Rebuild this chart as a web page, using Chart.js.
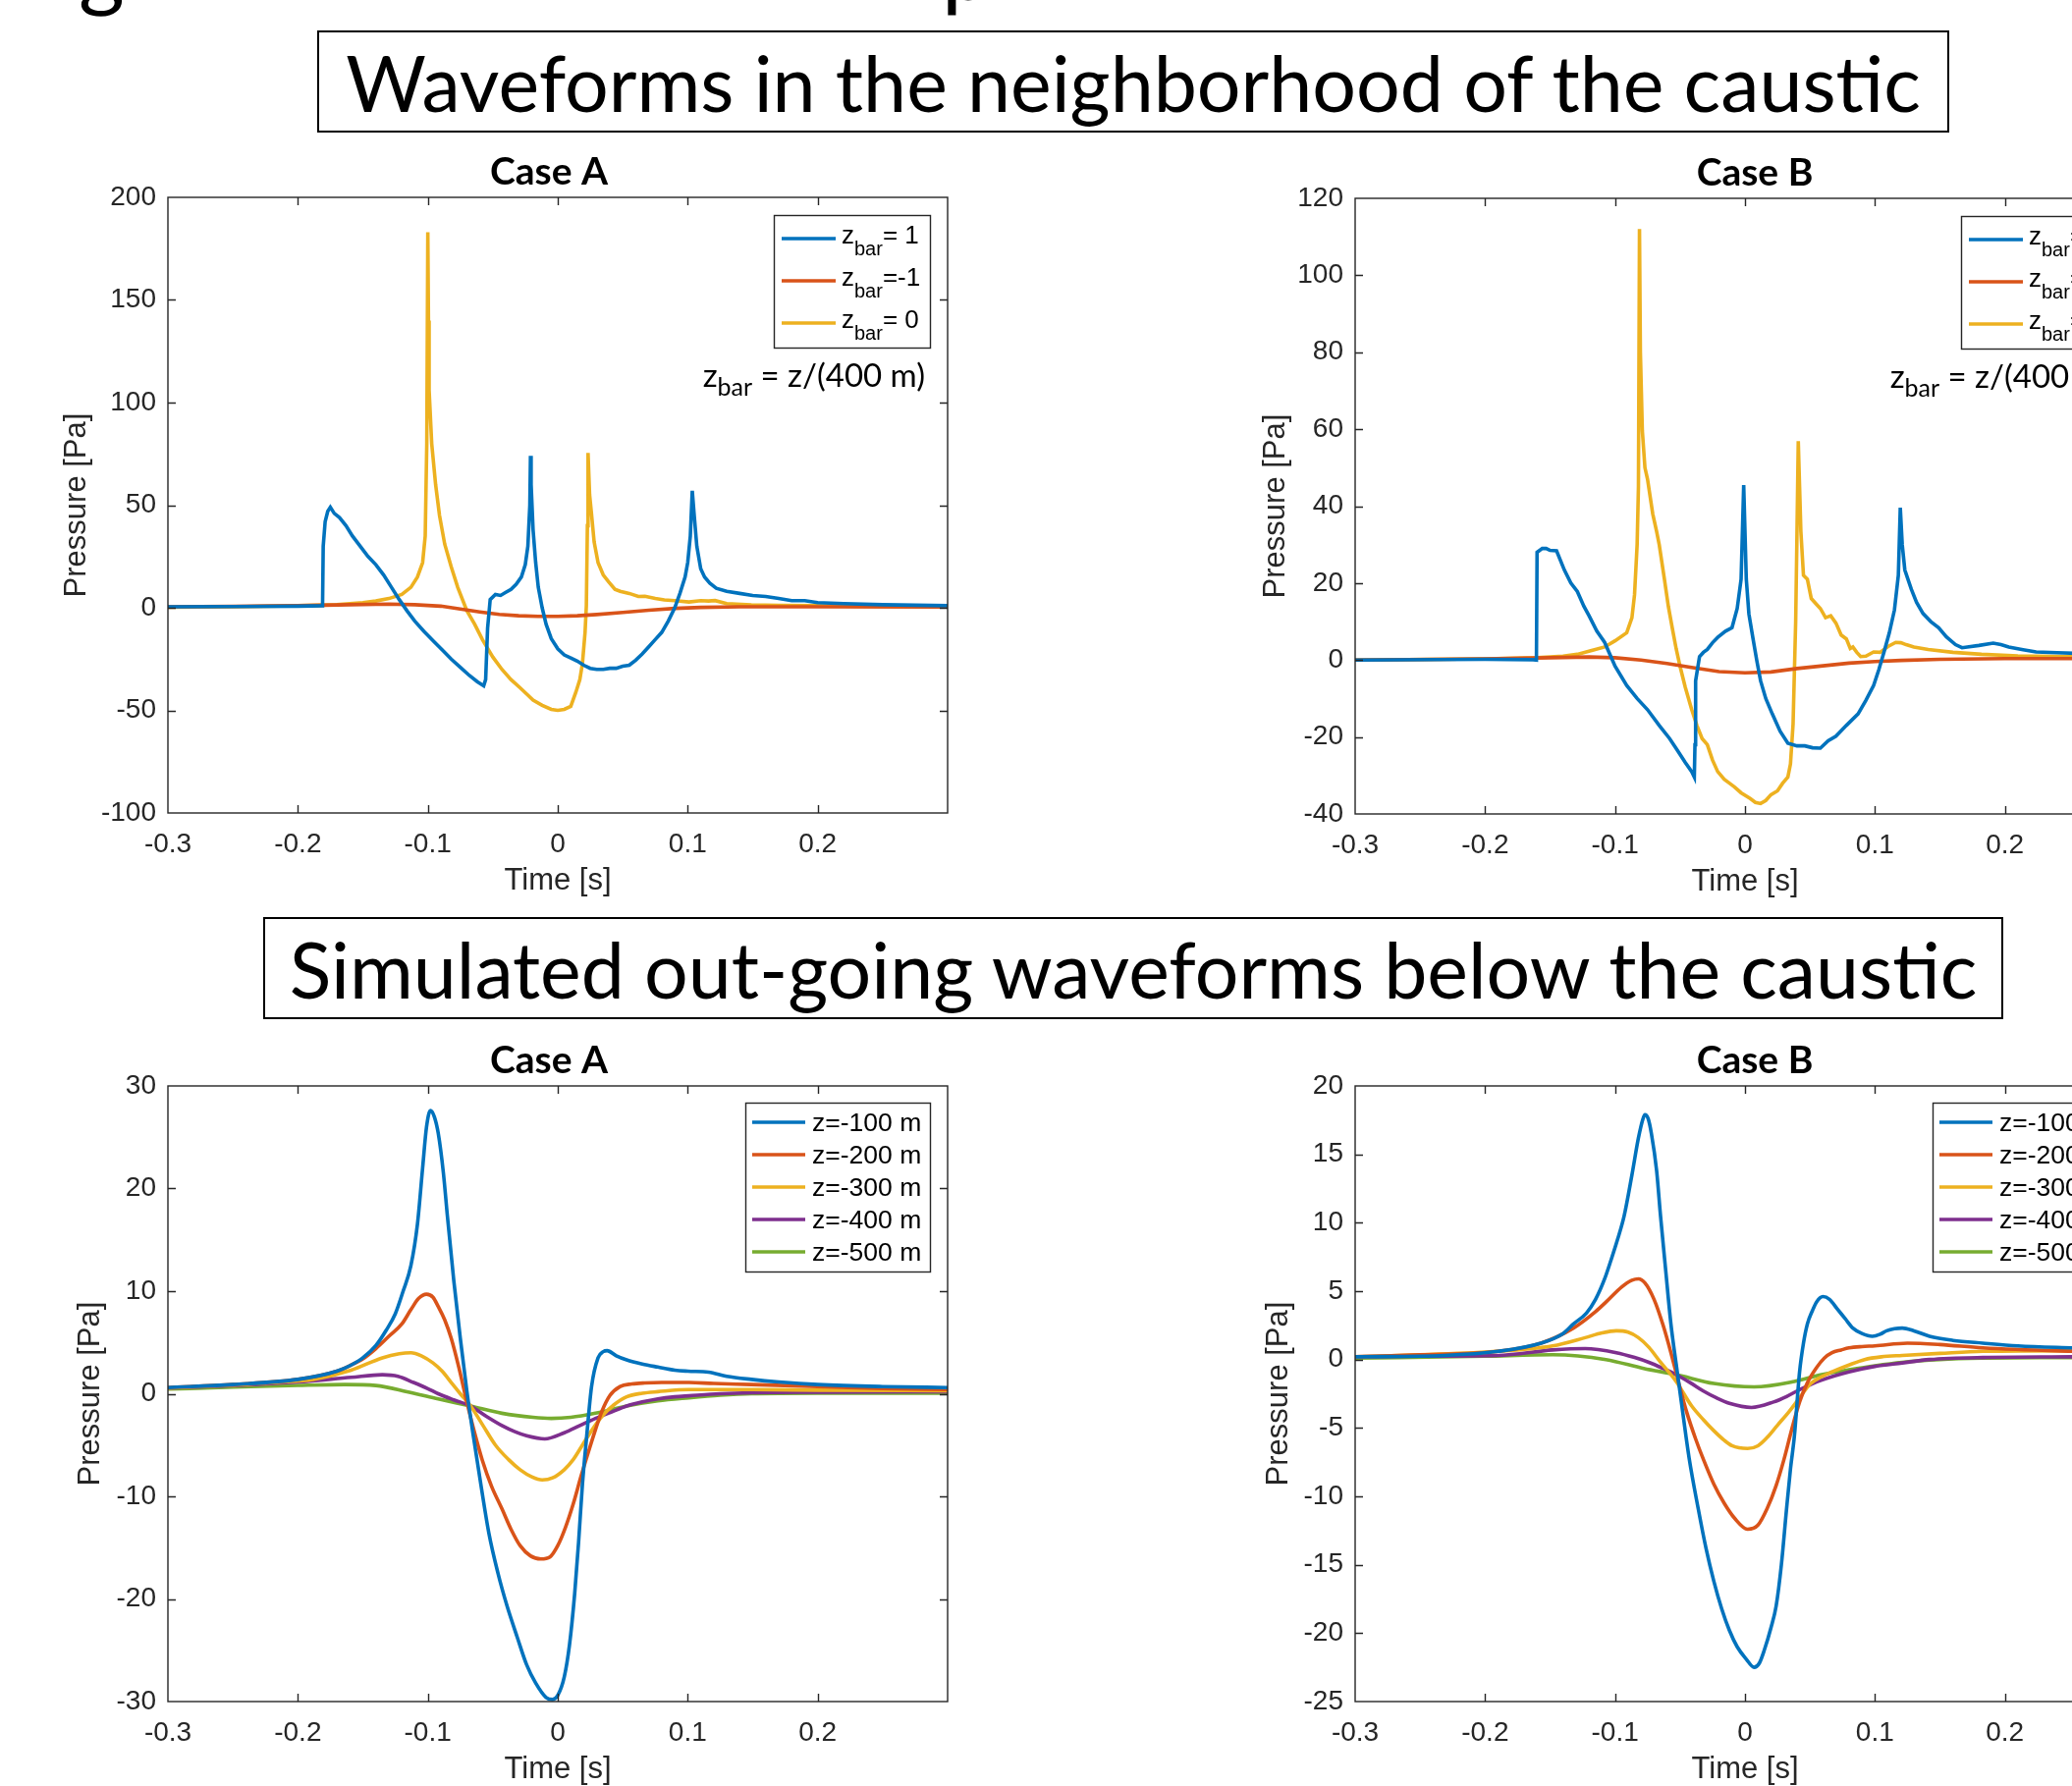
<!DOCTYPE html>
<html>
<head>
<meta charset="utf-8">
<script src="https://cdn.jsdelivr.net/npm/chart.js@4.4.1/dist/chart.umd.min.js"></script>
<style>
html, body { margin: 0; padding: 0; width: 2110px; height: 1819px; overflow: hidden; background: #fff; }
.frag { position: absolute; top: -80px; font-family: Lato; font-size: 90px; line-height: 90px; color: #000; }
.banner { position: absolute; box-sizing: border-box; border: 2px solid #000; display: flex; align-items: center; justify-content: center; font-family: Lato; color: #000; white-space: nowrap; background: #fff; }
canvas { position: absolute; }
</style>
</head>
<body>
<span class="frag" style="left:80px">g</span>
<span class="frag" style="left:959px">p</span>
<div class="banner" id="banner1" style="left:323px; top:31px; width:1662px; height:104px;"><span>Waveforms in the neighborhood of the caustic</span></div>
<div class="banner" id="banner2" style="left:268px; top:934px; width:1772px; height:104px;"><span>Simulated out-going waveforms below the caustic</span></div>
<canvas id="topA" width="1010" height="800" style="left:0px; top:130px"></canvas>
<canvas id="topB" width="1010" height="800" style="left:1209px; top:131px"></canvas>
<canvas id="botA" width="1010" height="800" style="left:0px; top:1035px"></canvas>
<canvas id="botB" width="1010" height="800" style="left:1209px; top:1035px"></canvas>
<script>
// ---- data (time in s, pressure in Pa) ----

// neighborhood of the caustic, case A
const tTopA_z1 = [-0.3, -0.25, -0.2, -0.181, -0.1805, -0.179, -0.177, -0.175, -0.172, -0.168, -0.163, -0.158, -0.152, -0.146, -0.14, -0.134, -0.128, -0.122, -0.116, -0.11, -0.103, -0.096, -0.089, -0.082, -0.075, -0.068, -0.062, -0.057, -0.0555, -0.054, -0.052, -0.048, -0.044, -0.04, -0.036, -0.032, -0.028, -0.025, -0.023, -0.0215, -0.021, -0.0205, -0.019, -0.017, -0.015, -0.012, -0.009, -0.005, 0, 0.005, 0.01, 0.015, 0.02, 0.025, 0.03, 0.035, 0.04, 0.045, 0.05, 0.055, 0.06, 0.065, 0.07, 0.075, 0.08, 0.085, 0.09, 0.094, 0.098, 0.1, 0.102, 0.1035, 0.105, 0.107, 0.11, 0.113, 0.117, 0.122, 0.13, 0.14, 0.15, 0.16, 0.17, 0.18, 0.19, 0.2, 0.22, 0.25, 0.3];
const pTopA_z1 = [0.5, 0.6, 0.8, 1, 30, 42, 47, 49, 46, 44, 40, 35, 30, 25, 21, 16, 10, 4, -1.5, -6.5, -11.5, -16, -20.5, -25, -29, -33, -36, -38, -35, -10, 4, 6.5, 6, 7.5, 9, 11.5, 15, 21, 30, 50, 74, 60, 38, 22, 10, 0, -8, -15, -20, -23, -24.5, -26, -28, -29.5, -30, -30, -29.5, -29.5, -28.5, -28, -25.5, -22.5, -19, -15.5, -12, -6.5, 0, 7, 15, 22, 35, 57, 45, 30, 19, 15, 12, 9.5, 8, 7, 6, 5.5, 4.5, 3.5, 3.5, 2.5, 2, 1.5, 1];
const tTopA_zm1 = [-0.3, -0.25, -0.2, -0.16, -0.13, -0.11, -0.09, -0.075, -0.06, -0.045, -0.03, -0.015, 0, 0.015, 0.03, 0.05, 0.07, 0.09, 0.11, 0.14, 0.2, 0.3];
const pTopA_zm1 = [0.5, 0.7, 1.0, 1.5, 1.8, 1.5, 0.8, -0.6, -2.0, -3.2, -3.9, -4.2, -4.2, -3.9, -3.3, -2.3, -1.2, -0.3, 0.2, 0.5, 0.5, 0.4];
const tTopA_z0 = [-0.3, -0.25, -0.2, -0.17, -0.15, -0.14, -0.13, -0.12, -0.113, -0.108, -0.104, -0.102, -0.1008, -0.1, -0.0995, -0.099, -0.097, -0.094, -0.091, -0.087, -0.082, -0.077, -0.07, -0.064, -0.058, -0.05, -0.043, -0.036, -0.029, -0.024, -0.019, -0.012, -0.005, 0, 0.005, 0.01, 0.014, 0.017, 0.019, 0.021, 0.022, 0.0228, 0.0233, 0.0245, 0.026, 0.028, 0.031, 0.035, 0.039, 0.044, 0.048, 0.055, 0.062, 0.067, 0.075, 0.082, 0.09, 0.101, 0.11, 0.116, 0.121, 0.13, 0.149, 0.17, 0.198, 0.24, 0.3];
const pTopA_z0 = [0.3, 0.5, 1.0, 1.5, 2.5, 3.3, 4.5, 6.5, 10, 15, 22, 35, 80, 183, 140, 106, 80, 60, 45, 31, 20, 10, -1.4, -8, -15.5, -24, -30, -35, -39, -42, -45, -47.5, -49.5, -50, -49.5, -48, -41, -35, -27, -12, 1, 40, 75.5, 55, 45.5, 32, 22, 16, 12.7, 9, 8, 7, 5.5, 5.6, 4.5, 3.8, 3.5, 2.8, 3.5, 3.3, 3.5, 2, 1.4, 1.2, 1, 0.7, 0.5];

// neighborhood of the caustic, case B
const tTopB_z1 = [-0.3, -0.2, -0.163, -0.1605, -0.16, -0.156, -0.153, -0.15, -0.145, -0.139, -0.134, -0.129, -0.124, -0.12, -0.114, -0.108, -0.1, -0.091, -0.083, -0.075, -0.066, -0.058, -0.052, -0.046, -0.041, -0.039, -0.0385, -0.038, -0.035, -0.032, -0.029, -0.025, -0.021, -0.015, -0.01, -0.006, -0.003, -0.001, 0.001, 0.003, 0.006, 0.009, 0.012, 0.016, 0.021, 0.027, 0.033, 0.04, 0.046, 0.052, 0.058, 0.064, 0.07, 0.078, 0.087, 0.093, 0.099, 0.103, 0.107, 0.111, 0.115, 0.118, 0.1195, 0.121, 0.123, 0.128, 0.132, 0.137, 0.143, 0.149, 0.155, 0.162, 0.167, 0.171, 0.18, 0.191, 0.197, 0.203, 0.214, 0.224, 0.24, 0.26, 0.3];
const pTopB_z1 = [0, 0.2, 0.1, 0, 28, 29, 29, 28.5, 28.4, 23.4, 20, 17.8, 14, 11.5, 7.5, 4.6, -1.6, -6.6, -10, -12.9, -17, -20.4, -23.5, -26.6, -29, -30.4, -22, -5.4, 0.9, 2, 2.75, 4.5, 5.9, 7.5, 8.4, 13.4, 21, 45.5, 21, 12, 5.9, 0, -5.4, -10, -14, -18.5, -21.6, -22.3, -22.3, -22.8, -22.9, -21, -19.8, -17, -14, -10.5, -6.6, -2.5, 2.1, 7, 13, 22, 39.6, 30, 23.4, 18.4, 15, 12.1, 10, 8.4, 6, 4, 3.2, 3.4, 3.8, 4.4, 4, 3.4, 2.7, 2.1, 1.9, 1.7, 1.2];
const tTopB_zm1 = [-0.3, -0.2, -0.15, -0.12, -0.1, -0.08, -0.06, -0.04, -0.02, 0, 0.02, 0.04, 0.06, 0.08, 0.1, 0.12, 0.15, 0.2, 0.3];
const pTopB_zm1 = [0, 0.3, 0.6, 0.8, 0.6, 0, -0.9, -2.0, -3.0, -3.3, -3.1, -2.2, -1.5, -0.8, -0.4, -0.1, 0.2, 0.4, 0.4];
const tTopB_z0 = [-0.3, -0.2, -0.16, -0.14, -0.129, -0.118, -0.108, -0.1, -0.091, -0.087, -0.085, -0.083, -0.082, -0.0812, -0.0805, -0.079, -0.077, -0.075, -0.071, -0.068, -0.066, -0.062, -0.059, -0.056, -0.053, -0.05, -0.046, -0.041, -0.037, -0.033, -0.029, -0.025, -0.021, -0.016, -0.012, -0.008, -0.003, 0.004, 0.008, 0.012, 0.016, 0.02, 0.025, 0.029, 0.033, 0.035, 0.037, 0.039, 0.04, 0.041, 0.042, 0.043, 0.045, 0.048, 0.051, 0.055, 0.058, 0.062, 0.066, 0.07, 0.074, 0.078, 0.081, 0.083, 0.086, 0.089, 0.093, 0.099, 0.104, 0.11, 0.116, 0.12, 0.124, 0.13, 0.141, 0.16, 0.182, 0.21, 0.252, 0.3];
const pTopB_z0 = [0, 0.3, 0.6, 1, 1.5, 2.5, 3.4, 5, 7.1, 11, 17, 30, 45, 112, 80, 59.6, 50, 47, 38, 33.4, 30, 21, 14, 8.4, 3, -1.6, -7, -12.9, -17, -20.4, -22, -26, -29, -31, -32, -33, -34.5, -36, -37, -37.3, -36.5, -35, -34, -32, -30.4, -27, -16.6, 10, 33, 56.9, 45, 33.4, 22, 21, 16, 14.5, 13.4, 11, 11.5, 9.6, 6.5, 5.5, 3, 3.4, 2, 0.9, 1, 2.1, 2, 3.5, 4.6, 4.5, 4, 3.4, 2.75, 2, 1.5, 1.1, 0.9, 0.7];

// below the caustic, case A
const tBotA_100 = [-0.3, -0.25, -0.2, -0.17, -0.159, -0.15, -0.14, -0.132, -0.125, -0.119, -0.113, -0.108, -0.104, -0.101, -0.098, -0.095, -0.092, -0.088, -0.085, -0.08, -0.075, -0.07, -0.065, -0.059, -0.053, -0.046, -0.039, -0.031, -0.024, -0.017, -0.009, -0.004, 0, 0.005, 0.009, 0.013, 0.016, 0.019, 0.022, 0.026, 0.031, 0.035, 0.038, 0.045, 0.053, 0.065, 0.077, 0.09, 0.1, 0.116, 0.13, 0.149, 0.17, 0.2, 0.25, 0.3];
const pBotA_100 = [0.6, 0.9, 1.4, 2.2, 2.8, 3.5, 4.7, 6.2, 7.8, 10, 12.5, 16.5, 22, 26, 27.6, 27, 25.4, 21.5, 17.4, 11, 5.4, 0.3, -4.1, -9, -13.6, -17.5, -20.7, -23.8, -26.4, -28.2, -29.6, -29.8, -29.4, -27.6, -24.5, -19.5, -14.5, -8.8, -4.5, 0.7, 3.5, 4.1, 4.2, 3.7, 3.3, 2.9, 2.6, 2.3, 2.2, 2.1, 1.7, 1.4, 1.15, 0.9, 0.7, 0.6];
const tBotA_200 = [-0.3, -0.25, -0.2, -0.17, -0.159, -0.15, -0.14, -0.13, -0.12, -0.113, -0.107, -0.101, -0.096, -0.092, -0.087, -0.082, -0.076, -0.07, -0.064, -0.058, -0.051, -0.043, -0.036, -0.029, -0.021, -0.013, -0.006, 0, 0.006, 0.012, 0.018, 0.024, 0.029, 0.034, 0.04, 0.048, 0.057, 0.067, 0.08, 0.101, 0.12, 0.149, 0.2, 0.25, 0.3];
const pBotA_200 = [0.6, 0.9, 1.4, 2.2, 2.8, 3.4, 4.4, 5.6, 6.8, 8.2, 9.3, 9.7, 9.4, 8.5, 7.2, 5.4, 2.5, -0.8, -3.8, -6.5, -9, -11.2, -13.2, -14.8, -15.8, -16.1, -15.9, -14.8, -13, -10.7, -8, -5.5, -3.5, -1.7, -0.2, 0.7, 0.95, 1.05, 1.1, 1.1, 1.0, 0.9, 0.7, 0.5, 0.4];
const tBotA_300 = [-0.3, -0.25, -0.2, -0.188, -0.159, -0.135, -0.122, -0.113, -0.105, -0.096, -0.089, -0.082, -0.075, -0.067, -0.058, -0.048, -0.038, -0.029, -0.02, -0.012, -0.004, 0.005, 0.012, 0.019, 0.026, 0.034, 0.043, 0.053, 0.065, 0.077, 0.101, 0.15, 0.2, 0.3];
const pBotA_300 = [0.55, 0.85, 1.25, 1.4, 2.3, 3.5, 3.9, 4.0, 3.7, 3.0, 2.2, 1.1, 0.0, -1.2, -3.0, -5.0, -6.4, -7.4, -8.1, -8.4, -8.2, -7.4, -6.4, -5.0, -3.6, -2.2, -1.1, -0.3, 0.05, 0.2, 0.4, 0.4, 0.35, 0.3];
const tBotA_400 = [-0.3, -0.25, -0.2, -0.159, -0.135, -0.123, -0.111, -0.1, -0.092, -0.08, -0.067, -0.055, -0.043, -0.033, -0.024, -0.01, 0.005, 0.017, 0.029, 0.041, 0.053, 0.065, 0.077, 0.09, 0.101, 0.125, 0.149, 0.2, 0.3];
const pBotA_400 = [0.55, 0.8, 1.15, 1.6, 1.85, 1.7, 1.1, 0.5, 0.0, -0.6, -1.2, -2.2, -3.1, -3.7, -4.1, -4.4, -3.8, -3.1, -2.4, -1.8, -1.2, -0.8, -0.5, -0.3, -0.2, 0.0, 0.1, 0.15, 0.2];
const tBotA_500 = [-0.3, -0.25, -0.2, -0.164, -0.14, -0.116, -0.092, -0.067, -0.043, -0.019, -0.005, 0.01, 0.029, 0.053, 0.077, 0.101, 0.125, 0.149, 0.2, 0.3];
const pBotA_500 = [0.45, 0.65, 0.82, 0.9, 0.8, 0.2, -0.5, -1.2, -1.9, -2.3, -2.4, -2.3, -1.9, -1.2, -0.7, -0.4, -0.15, 0.0, 0.05, 0.05];

// below the caustic, case B
const tBotB_100 = [-0.3, -0.231, -0.19, -0.157, -0.14, -0.132, -0.122, -0.115, -0.108, -0.103, -0.098, -0.093, -0.087, -0.082, -0.0785, -0.077, -0.0745, -0.072, -0.068, -0.065, -0.061, -0.057, -0.053, -0.049, -0.043, -0.036, -0.03, -0.024, -0.018, -0.012, -0.006, 0.001, 0.007, 0.011, 0.015, 0.02, 0.024, 0.028, 0.032, 0.035, 0.038, 0.042, 0.045, 0.048, 0.052, 0.055, 0.06, 0.065, 0.071, 0.077, 0.083, 0.09, 0.098, 0.104, 0.109, 0.115, 0.121, 0.13, 0.142, 0.16, 0.183, 0.21, 0.253, 0.3];
const pBotB_100 = [0.2, 0.3, 0.6, 1.2, 1.9, 2.6, 3.4, 4.4, 5.9, 7.3, 8.8, 10.5, 13.5, 16.2, 17.6, 17.9, 17.6, 16.5, 13.8, 10.5, 6.5, 2.6, -0.3, -3.1, -7.2, -10.9, -13.8, -16.2, -18.2, -19.8, -21, -21.9, -22.5, -22.2, -21.2, -19.6, -18, -15, -10.9, -8, -5.6, -0.9, 1.2, 2.6, 3.6, 4.2, 4.6, 4.4, 3.7, 3.0, 2.3, 1.9, 1.7, 1.85, 2.1, 2.25, 2.3, 2.1, 1.7, 1.4, 1.2, 1.0, 0.85, 0.7];
const tBotB_200 = [-0.3, -0.25, -0.19, -0.157, -0.132, -0.115, -0.107, -0.095, -0.087, -0.082, -0.077, -0.07, -0.063, -0.057, -0.051, -0.045, -0.038, -0.032, -0.024, -0.016, -0.008, 0.002, 0.01, 0.017, 0.024, 0.03, 0.036, 0.042, 0.048, 0.055, 0.061, 0.067, 0.074, 0.08, 0.09, 0.1, 0.125, 0.15, 0.183, 0.253, 0.3];
const pBotB_200 = [0.2, 0.35, 0.6, 1.2, 2.3, 3.5, 4.2, 5.3, 5.8, 5.9, 5.6, 4.4, 2.5, 0.5, -1.7, -3.8, -5.8, -7.3, -9.1, -10.5, -11.6, -12.4, -12.1, -10.9, -9.2, -7.3, -5.1, -3.1, -1.7, -0.6, 0.1, 0.5, 0.7, 0.85, 0.95, 1.0, 1.2, 1.1, 0.85, 0.6, 0.5];
const tBotB_300 = [-0.3, -0.25, -0.19, -0.148, -0.123, -0.11, -0.099, -0.09, -0.082, -0.074, -0.065, -0.053, -0.041, -0.032, -0.024, -0.016, -0.01, 0.002, 0.01, 0.017, 0.025, 0.034, 0.042, 0.05, 0.058, 0.067, 0.08, 0.092, 0.105, 0.121, 0.15, 0.183, 0.253, 0.3];
const pBotB_300 = [0.2, 0.35, 0.6, 1.0, 1.6, 1.95, 2.1, 2.0, 1.6, 0.9, -0.2, -1.6, -3.4, -4.4, -5.2, -5.9, -6.3, -6.5, -6.3, -5.7, -4.8, -3.8, -2.8, -1.8, -1.3, -0.9, -0.4, 0.0, 0.2, 0.3, 0.45, 0.6, 0.65, 0.65];
const tBotB_400 = [-0.3, -0.25, -0.19, -0.148, -0.123, -0.099, -0.085, -0.074, -0.063, -0.053, -0.042, -0.032, -0.022, -0.012, 0.005, 0.022, 0.032, 0.042, 0.059, 0.08, 0.1, 0.121, 0.142, 0.183, 0.253, 0.3];
const pBotB_400 = [0.2, 0.25, 0.3, 0.7, 0.8, 0.5, 0.15, -0.2, -0.65, -1.1, -1.7, -2.3, -2.8, -3.2, -3.5, -3.1, -2.7, -2.2, -1.5, -0.9, -0.5, -0.25, 0.0, 0.15, 0.2, 0.25];
const tBotB_500 = [-0.3, -0.2, -0.148, -0.107, -0.078, -0.053, -0.024, 0.007, 0.038, 0.059, 0.08, 0.1, 0.121, 0.15, 0.183, 0.253, 0.3];
const pBotB_500 = [0.1, 0.25, 0.35, 0.0, -0.65, -1.1, -1.75, -2.0, -1.6, -1.1, -0.75, -0.45, -0.2, 0.0, 0.1, 0.15, 0.2];

// legend texts
const zbarLabels = ['= 1', '=-1', '= 0'];
const depthLabels = ['z=-100 m', 'z=-200 m', 'z=-300 m', 'z=-400 m', 'z=-500 m'];

// matlab default line colours
const blue = '#0072BD', orange = '#D95319', yellow = '#EDB120', purple = '#7E2F8E', green = '#77AC30';

// ---- helpers ----
const toXY = (t, p) => t.map((v, i) => ({ x: v, y: p[i] }));
const tickFont = { family: "'Liberation Sans', Arial, sans-serif", size: 28 };
const labelFont = { family: "'Liberation Sans', Arial, sans-serif", size: 31 };
const axisColor = '#262626';
const lineW = 3.6;

function fitBanner(id, target) {
  const span = document.querySelector('#' + id + ' span');
  span.style.fontSize = '100px';
  const w = span.getBoundingClientRect().width;
  span.style.fontSize = (100 * target / w) + 'px';
}
fitBanner('banner1', 1604);
fitBanner('banner2', 1719);

// draws the matlab style box, inner ticks, title, legend and note
const matlabFrame = {
  id: 'matlabFrame',
  afterDatasetsDraw(chart, args, opts) {
    const { ctx, chartArea: a, scales: { x, y } } = chart;
    ctx.save();
    ctx.strokeStyle = axisColor;
    ctx.lineWidth = 1.4;
    ctx.beginPath();
    x.ticks.forEach(t => {
      if (t.value <= x.min + 1e-9 || t.value >= x.max - 1e-9) return;
      const px = Math.round(x.getPixelForValue(t.value)) + 0.5;
      ctx.moveTo(px, a.bottom); ctx.lineTo(px, a.bottom - 8);
      ctx.moveTo(px, a.top); ctx.lineTo(px, a.top + 8);
    });
    y.ticks.forEach(t => {
      if (t.value <= y.min + 1e-9 || t.value >= y.max - 1e-9) return;
      const py = Math.round(y.getPixelForValue(t.value)) + 0.5;
      ctx.moveTo(a.left, py); ctx.lineTo(a.left + 8, py);
      ctx.moveTo(a.right, py); ctx.lineTo(a.right - 8, py);
    });
    ctx.stroke();
    ctx.strokeRect(a.left, a.top, a.width, a.height);

    // title
    ctx.fillStyle = '#000';
    ctx.font = 'bold 39px Lato';
    ctx.textAlign = 'center';
    ctx.textBaseline = 'alphabetic';
    ctx.fillText(opts.title, x.getPixelForValue(0) + opts.titleDx, a.top - 13);

    // legend
    const L = opts.legend;
    const bx = a.right - L.right, by = a.top + L.top;
    ctx.fillStyle = '#fff';
    ctx.fillRect(bx, by, L.w, L.h);
    ctx.strokeStyle = axisColor;
    ctx.lineWidth = 1.4;
    ctx.strokeRect(bx + 0.5, by + 0.5, L.w, L.h);
    ctx.textAlign = 'left';
    chart.data.datasets.forEach((ds, i) => {
      const ry = by + L.first + i * L.step;
      ctx.strokeStyle = ds.borderColor;
      ctx.lineWidth = lineW;
      ctx.beginPath();
      ctx.moveTo(bx + L.x0, ry); ctx.lineTo(bx + L.x1, ry);
      ctx.stroke();
      ctx.fillStyle = '#000';
      let tx = bx + L.textX;
      ds.legendParts.forEach(part => {
        ctx.font = (part.sub ? L.subSize : L.size) + "px 'Liberation Sans', Arial, sans-serif";
        ctx.fillText(part.text, tx, ry + (part.sub ? L.subDy : L.dy));
        tx += ctx.measureText(part.text).width;
      });
    });

    // note z_bar = z/(400 m)
    if (opts.note) {
      const parts = [{ text: 'z' }, { text: 'bar', sub: true }, { text: ' = z/(400 m)' }];
      const fontOf = p => (p.sub ? '25px' : '33px') + ' Lato';
      let total = 0;
      parts.forEach(p => { ctx.font = fontOf(p); total += ctx.measureText(p.text).width; });
      let tx = a.right - 23 - total;
      ctx.fillStyle = '#000';
      parts.forEach(p => {
        ctx.font = fontOf(p);
        ctx.fillText(p.text, tx, a.top + 193 + (p.sub ? 9 : 0));
        tx += ctx.measureText(p.text).width;
      });
    }
    ctx.restore();
  }
};

const topLegend = { right: 177, top: 18, w: 159, h: 135, first: 24, step: 43, x0: 8, x1: 63, textX: 69, dy: 4.5, subDy: 17, size: 26, subSize: 20 };
const botLegend = { right: 206, top: 17, w: 188, h: 172, first: 20, step: 33, x0: 7, x1: 61, textX: 68, dy: 9, subDy: 9, size: 26.5, subSize: 20 };

function makeChart(id, series, yMin, yMax, yStep, frame) {
  return new Chart(document.getElementById(id), {
    type: 'line',
    data: {
      datasets: series.map(s => ({
        label: s.label,
        data: toXY(s.t, s.p),
        borderColor: s.color,
        borderWidth: lineW,
        pointRadius: 0,
        fill: false,
        tension: frame.smooth ? 0.4 : 0,
        cubicInterpolationMode: frame.smooth ? 'monotone' : 'default',
        legendParts: s.parts
      }))
    },
    options: {
      responsive: false,
      animation: false,
      events: [],
      layout: { padding: { left: 0, right: 45, top: 71, bottom: 0 } },
      plugins: {
        legend: { display: false },
        tooltip: { enabled: false },
        matlabFrame: frame
      },
      scales: {
        x: {
          type: 'linear',
          min: -0.3,
          max: 0.3,
          afterFit: s => { s.height = 102; },
          grid: { display: false, drawTicks: false },
          border: { display: false },
          ticks: {
            stepSize: 0.1,
            font: tickFont,
            color: axisColor,
            padding: 15,
            maxRotation: 0,
            autoSkip: false,
            callback: v => {
              const r = Math.round(v * 10) / 10;
              if (r >= 0.3) return '';
              return r === 0 ? '0' : String(r);
            }
          },
          title: { display: true, text: 'Time [s]', font: labelFont, color: axisColor, padding: { top: 0, bottom: 14 } }
        },
        y: {
          min: yMin,
          max: yMax,
          afterFit: s => { s.width = 171; },
          grid: { display: false, drawTicks: false },
          border: { display: false },
          ticks: { stepSize: yStep, font: tickFont, color: axisColor, padding: 12 },
          title: { display: true, text: 'Pressure [Pa]', font: labelFont, color: axisColor, padding: { top: frame.yTitlePad, bottom: 0 } }
        }
      }
    },
    plugins: [matlabFrame]
  });
}

const zbarParts = zbarLabels.map(l => [{ text: 'z' }, { text: 'bar', sub: true }, { text: l }]);
const depthParts = depthLabels.map(l => [{ text: l }]);

makeChart('topA', [
  { label: 'zbar' + zbarLabels[0], t: tTopA_z1, p: pTopA_z1, color: blue, parts: zbarParts[0] },
  { label: 'zbar' + zbarLabels[1], t: tTopA_zm1, p: pTopA_zm1, color: orange, parts: zbarParts[1] },
  { label: 'zbar' + zbarLabels[2], t: tTopA_z0, p: pTopA_z0, color: yellow, parts: zbarParts[2] }
], -100, 200, 50, { title: 'Case A', titleDx: -9, legend: topLegend, note: true, smooth: false, yTitlePad: 60 });

makeChart('topB', [
  { label: 'zbar' + zbarLabels[0], t: tTopB_z1, p: pTopB_z1, color: blue, parts: zbarParts[0] },
  { label: 'zbar' + zbarLabels[1], t: tTopB_zm1, p: pTopB_zm1, color: orange, parts: zbarParts[1] },
  { label: 'zbar' + zbarLabels[2], t: tTopB_z0, p: pTopB_z0, color: yellow, parts: zbarParts[2] }
], -40, 120, 20, { title: 'Case B', titleDx: 10, legend: topLegend, note: true, smooth: false, yTitlePad: 72 });

makeChart('botA', [
  { label: depthLabels[0], t: tBotA_100, p: pBotA_100, color: blue, parts: depthParts[0] },
  { label: depthLabels[1], t: tBotA_200, p: pBotA_200, color: orange, parts: depthParts[1] },
  { label: depthLabels[2], t: tBotA_300, p: pBotA_300, color: yellow, parts: depthParts[2] },
  { label: depthLabels[3], t: tBotA_400, p: pBotA_400, color: purple, parts: depthParts[3] },
  { label: depthLabels[4], t: tBotA_500, p: pBotA_500, color: green, parts: depthParts[4] }
], -30, 30, 10, { title: 'Case A', titleDx: -9, legend: botLegend, note: false, smooth: true, yTitlePad: 74 });

makeChart('botB', [
  { label: depthLabels[0], t: tBotB_100, p: pBotB_100, color: blue, parts: depthParts[0] },
  { label: depthLabels[1], t: tBotB_200, p: pBotB_200, color: orange, parts: depthParts[1] },
  { label: depthLabels[2], t: tBotB_300, p: pBotB_300, color: yellow, parts: depthParts[2] },
  { label: depthLabels[3], t: tBotB_400, p: pBotB_400, color: purple, parts: depthParts[3] },
  { label: depthLabels[4], t: tBotB_500, p: pBotB_500, color: green, parts: depthParts[4] }
], -25, 20, 5, { title: 'Case B', titleDx: 10, legend: botLegend, note: false, smooth: true, yTitlePad: 75 });
</script>
</body>
</html>
